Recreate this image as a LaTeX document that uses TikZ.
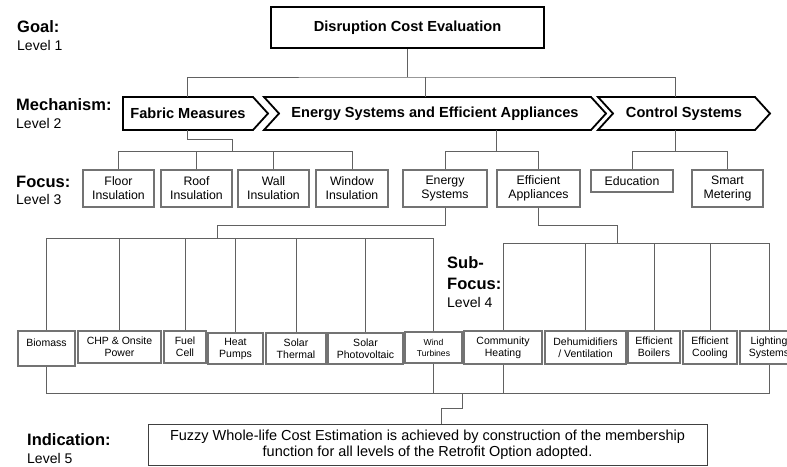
\documentclass[tikz,border=0pt]{standalone}
\usepackage{fontspec}
\setmainfont{Liberation Sans}
\usetikzlibrary{positioning}

\begin{document}
\begin{tikzpicture}[x=1pt, y=-1pt,
  link/.style={draw=black!62, line width=0.9pt},
  head/.style={font=\fontsize{16.5}{18}\selectfont\bfseries, anchor=base west, inner sep=0pt},
  lvl/.style={font=\fontsize{14}{16}\selectfont, anchor=base west, inner sep=0pt},
  goal box/.style={draw, line width=2.4pt, minimum width=273pt, minimum height=41pt, font=\fontsize{14.6}{16}\selectfont\bfseries},
  mech/.style={minimum height=33pt, inner sep=0pt, outer sep=0pt, font=\fontsize{14.6}{16}\selectfont\bfseries},
  chev/.style={draw, line width=1.8pt, line join=miter},
  focus box/.style={draw=black!55, line width=1.1pt, align=center, inner sep=1pt, minimum height=37pt, font=\fontsize{12.3}{14}\selectfont},
  sub box/.style={draw=black!55, line width=1.1pt, align=center, inner sep=1pt, minimum height=32pt, font=\fontsize{10.5}{12}\selectfont},
  note box/.style={draw=black!75, line width=1pt, align=center, minimum width=559pt, minimum height=41pt, font=\fontsize{14.5}{16.5}\selectfont}]
  \fill[white] (0,0) rectangle (787,466);
  \useasboundingbox (0,0) rectangle (787,466);
  \clip (0,0) rectangle (787,466);

  \node[head] (goal) at (17,32) {Goal:};
  \node[lvl] (label1) at (17,50) {Level 1};
  \node[head] (mechanism) at (16,110) {Mechanism:};
  \node[lvl] (label2) at (16,128) {Level 2};
  \node[head] (focus) at (16,187) {Focus:};
  \node[lvl] (label3) at (16,204) {Level 3};
  \node[head] (sub) at (447,268) {Sub-};
  \node[head] (subfocus) at (447,289) {Focus:};
  \node[lvl] (label4) at (447,307) {Level 4};
  \node[head] (indication) at (27,445) {Indication:};
  \node[lvl] (label5) at (27,463) {Level 5};

  \node[goal box] (top) at (407.5,27.5) {Disruption Cost Evaluation};

  \node[mech, minimum width=130pt] (fab) at (188,113.5) {Fabric Measures};
  \node[mech, minimum width=312pt] (ene) at (435,113.5) {Energy Systems and Efficient Appliances};
  \node[mech, minimum width=142pt] (ctl) at (684,113.5) {Control Systems};
  \draw[chev] (fab.north west) -- (fab.north east) -- ([xshift=15pt]fab.east) -- (fab.south east) -- (fab.south west) -- cycle;
  \foreach \n in {ene,ctl}
    \draw[chev] ([xshift=-15pt]\n.north west) -- (\n.north east) -- ([xshift=15pt]\n.east) -- (\n.south east) -- ([xshift=-15pt]\n.south west) -- (\n.west) -- cycle;

  \node[focus box, minimum width=71pt] (floor) at (118.5,188.5) {Floor\\Insulation};
  \node[focus box, minimum width=71pt] (roof) at (196.5,188.5) {Roof\\Insulation};
  \node[focus box, minimum width=71pt] (wall) at (273.5,188.5) {Wall\\Insulation};
  \node[focus box, minimum width=72pt] (window) at (352,188.5) {Window\\Insulation};
  \node[focus box, minimum width=84pt] (esys) at (445,188.5) {Energy\\Systems};
  \node[focus box, minimum width=83pt] (eapp) at (538.5,188.5) {Efficient\\Appliances};
  \node[focus box, minimum width=82pt, minimum height=22pt] (edu) at (632,181) {Education};
  \node[focus box, minimum width=71pt] (smart) at (727.5,188.5) {Smart\\Metering};

  \node[sub box, minimum width=57pt, minimum height=35pt] (bio) at (46.5,348.5) {Biomass\\\mbox{}};
  \node[sub box, minimum width=83pt] (chp) at (119.5,347) {CHP \& Onsite\\Power};
  \node[sub box, minimum width=42pt] (fuel) at (185,347) {Fuel\\Cell};
  \node[sub box, minimum width=55pt, minimum height=31pt] (heat) at (235.5,348.5) {Heat\\Pumps};
  \node[sub box, minimum width=60pt, minimum height=31pt] (sth) at (296,348.5) {Solar\\Thermal};
  \node[sub box, minimum width=75pt, minimum height=31pt] (spv) at (365.5,348.5) {Solar\\Photovoltaic};
  \node[sub box, minimum width=57pt, minimum height=31pt, font=\fontsize{8.6}{11}\selectfont] (wind) at (433.5,347.5) {Wind\\Turbines};
  \node[sub box, minimum width=78pt, minimum height=33pt] (comm) at (503,347.5) {Community\\Heating};
  \node[sub box, minimum width=81pt, minimum height=33pt] (dehum) at (585.5,347.5) {Dehumidifiers\\/ Ventilation};
  \node[sub box, minimum width=52pt] (boil) at (654,347) {Efficient\\Boilers};
  \node[sub box, minimum width=54pt, minimum height=33pt] (cool) at (710,347.5) {Efficient\\Cooling};
  \node[sub box, minimum width=58pt, minimum height=33pt] (light) at (769,347.5) {Lighting\\Systems};

  \node[note box] (ind) at (427.5,444.5) {Fuzzy Whole-life Cost Estimation is achieved by construction of the membership\\function for all levels of the Retrofit Option adopted.};

  \draw[link] (top.south) -- (top.south |- 0,77) coordinate (b1);
  \draw[link] (fab.north -| 187,0) |- (b1) -| (ctl.north -| 675,0);
  \draw[link] (ene.north -| 425,0) -- (425,77);

  \draw[link] (fab.south -| 187,0) |- (232,139) -- (232,151);
  \draw[link] (floor.north) -- (floor.north |- 0,151) -| (window.north);
  \foreach \n in {roof,wall}
    \draw[link] (\n.north) -- (\n.north |- 0,151);
  \draw[link] (ene.south -| 496,0) -- (496,151);
  \draw[link] (esys.north) -- (esys.north |- 0,151) -| (eapp.north);
  \draw[link] (ctl.south -| 675,0) -- (675,151);
  \draw[link] (edu.north) -- (edu.north |- 0,151) -| (smart.north);

  \draw[link] (esys.south) |- (217,225) -- (217,238);
  \draw[link] (bio.north) -- (bio.north |- 0,238) -| (wind.north);
  \foreach \n in {chp,fuel,heat,sth,spv}
    \draw[link] (\n.north) -- (\n.north |- 0,238);
  \draw[link] (eapp.south) |- (617,225) -- (617,243);
  \draw[link] (comm.north) -- (comm.north |- 0,243) -| (light.north);
  \foreach \n in {dehum,boil,cool}
    \draw[link] (\n.north) -- (\n.north |- 0,243);

  \draw[link] (bio.south) |- (light.south |- 0,393) -- (light.south);
  \draw[link] (wind.south) -- (wind.south |- 0,393);
  \draw[link] (comm.south) -- (comm.south |- 0,393);
  \draw[link] (462,393) |- (441,408) -- (ind.north -| 441,0);
\end{tikzpicture}
\end{document}
